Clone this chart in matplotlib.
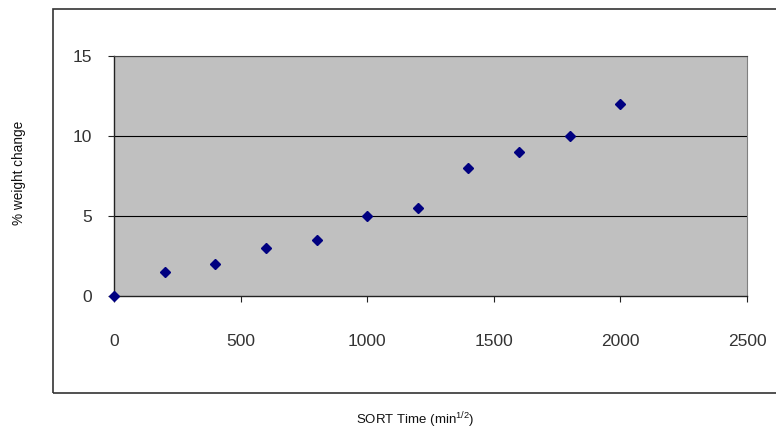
import matplotlib
matplotlib.use("Agg")
import matplotlib.pyplot as plt
from matplotlib.patches import Rectangle

plt.rcParams['font.family'] = ['Liberation Sans', 'DejaVu Sans']

time_vals = [0, 200, 400, 600, 800, 1000, 1200, 1400, 1600, 1800, 2000]
weight_change = [0, 1.5, 2, 3, 3.5, 5, 5.5, 8, 9, 10, 12]
x_ticks = [0, 500, 1000, 1500, 2000, 2500]
y_ticks = [0, 5, 10, 15]

fig = plt.figure(figsize=(7.76, 4.29), dpi=100)
fig.patch.set_facecolor('white')

# outer chart border
fig.patches.append(Rectangle((53/776, 1-393/429), 1.2, (393-9)/429,
                             transform=fig.transFigure, fill=False,
                             edgecolor='#333333', linewidth=1.2))

ax = fig.add_axes([114/776, 1-296/429, (747-114)/776, (296-56)/429])
ax.set_facecolor('#C0C0C0')
ax.set_xlim(0, 2500)
ax.set_ylim(0, 15)
ax.set_xticks(x_ticks)
ax.set_yticks(y_ticks)
ax.set_xticklabels([str(v) for v in x_ticks])
ax.set_yticklabels([str(v) for v in y_ticks])

for y in y_ticks[1:]:
    ax.axhline(y, color='black', linewidth=0.8, zorder=1)

ax.plot(time_vals, weight_change, linestyle='none', marker='D', markersize=5,
        color='#000080', zorder=3, clip_on=False)

for s in ['left', 'bottom']:
    ax.spines[s].set_color('#222222')
    ax.spines[s].set_linewidth(1.0)
ax.spines['top'].set_color('#444444')
ax.spines['top'].set_linewidth(0.8)
ax.spines['right'].set_color('#808080')
ax.spines['right'].set_linewidth(0.8)

ax.tick_params(axis='both', direction='out', length=4.5, width=0.8,
               color='#222222', labelsize=12.5, labelcolor='#333333')
ax.tick_params(axis='x', pad=23)
ax.tick_params(axis='y', pad=11)

fig.text(19/776, 1-173/429, '% weight change', rotation=90, ha='center',
         va='center', fontsize=9.8, color='#111111')
fig.text(415/776, 1-420/429, r'SORT Time (min$^{\mathregular{1/2}}$)',
         ha='center', va='center', fontsize=9.5, color='#111111')

fig.savefig('out.png', dpi=100)
